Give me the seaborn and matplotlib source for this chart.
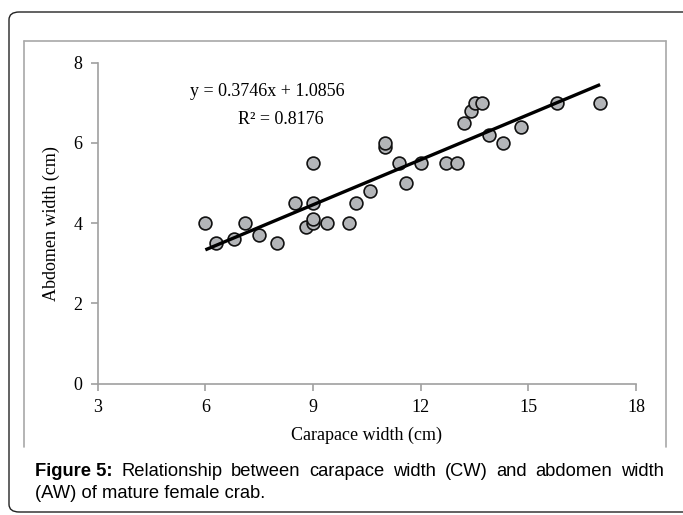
import numpy as np
import pandas as pd
import matplotlib
matplotlib.use("Agg")
import matplotlib.pyplot as plt
from matplotlib.patches import FancyBboxPatch
from matplotlib.lines import Line2D
import seaborn as sns

# ---- data ----
carapace_width = [6.0, 6.3, 6.8, 7.1, 7.5, 8.0, 8.5, 8.8, 9.0, 9.0, 9.0, 9.0,
                  9.4, 10.0, 10.2, 10.6, 11.0, 11.0, 11.4, 11.6, 12.0, 12.7,
                  13.0, 13.2, 13.4, 13.5, 13.7, 13.9, 14.3, 14.8, 15.8, 17.0]
abdomen_width = [4.0, 3.5, 3.6, 4.0, 3.7, 3.5, 4.5, 3.9, 4.0, 4.1, 4.5, 5.5,
                 4.0, 4.0, 4.5, 4.8, 5.9, 6.0, 5.5, 5.0, 5.5, 5.5,
                 5.5, 6.5, 6.8, 7.0, 7.0, 6.2, 6.0, 6.4, 7.0, 7.0]
slope = 0.3746
intercept = 1.0856
r_squared = 0.8176
x_ticks = [3, 6, 9, 12, 15, 18]
y_ticks = [0, 2, 4, 6, 8]

df = pd.DataFrame({"CW": carapace_width, "AW": abdomen_width})

sns.set_theme(style="white")
plt.rcParams['font.family'] = ['Liberation Serif', 'DejaVu Serif']

W, H = 683, 515
fig = plt.figure(figsize=(W / 100, H / 100), dpi=100)
ax = fig.add_axes([97.7 / W, 1 - 383.5 / H, (636 - 97.7) / W, (383.5 - 62.7) / H])

sns.scatterplot(data=df, x="CW", y="AW", ax=ax, s=85, color="#b3b5b8",
                edgecolor="#111111", linewidth=1.2, zorder=3)

xs = np.array([min(carapace_width), max(carapace_width)])
ax.plot(xs, slope * xs + intercept, color="black", lw=2.4, zorder=4,
        solid_capstyle="butt")

ax.set_xlim(3, 18)
ax.set_ylim(0, 8)
ax.set_xticks(x_ticks)
ax.set_yticks(y_ticks)
ax.set_xticklabels([str(t) for t in x_ticks])
ax.set_yticklabels([str(t) for t in y_ticks])

spine_col = "#a0a0a0"
for s in ["top", "right"]:
    ax.spines[s].set_visible(False)
for s in ["left", "bottom"]:
    ax.spines[s].set_color(spine_col)
    ax.spines[s].set_linewidth(1.2)
ax.tick_params(axis="both", which="both", direction="out", length=5,
               width=1.2, color=spine_col, labelsize=13, labelcolor="black",
               pad=6, bottom=True, left=True)
ax.set_xlabel("Carapace width (cm)", fontsize=13, labelpad=8, color="black")
ax.set_ylabel("Abdomen width (cm)", fontsize=13, labelpad=10, color="black")

ax.text(190 / W, 1 - 91 / H, f"y = {slope}x + {intercept}", transform=fig.transFigure,
        fontsize=13, ha="left", va="center", color="black")
ax.text(238 / W, 1 - 119 / H, f"R² = {r_squared}", transform=fig.transFigure,
        fontsize=13, ha="left", va="center", color="black")

# inner chart frame (three sides)
frame_col = "#a8a8a8"
fx0, fx1, fy0, fy1 = 23.5 / W, 665.5 / W, 1 - 447 / H, 1 - 41 / H
for xd, yd in [([fx0, fx0], [fy0, fy1]), ([fx0, fx1], [fy1, fy1]), ([fx1, fx1], [fy1, fy0])]:
    fig.add_artist(Line2D(xd, yd, transform=fig.transFigure, color=frame_col, lw=1.2))

# outer rounded box
box = FancyBboxPatch((9 / W, 1 - 512 / H), (700 - 9) / W, (512 - 12) / H,
                     boxstyle="round,pad=0,rounding_size=0.015", transform=fig.transFigure,
                     fill=False, edgecolor="#222222", lw=1.0)
fig.add_artist(box)

# caption: first line justified between x=35 and x=664
cap_font = ['Liberation Sans', 'DejaVu Sans']
cap_size = 13.2
left_px, right_px = 35, 664
line1_y = 1 - 471 / H
words = [("Figure 5:", True), ("Relationship", False), ("between", False),
         ("carapace", False), ("width", False), ("(CW)", False), ("and", False),
         ("abdomen", False), ("width", False)]
renderer = fig.canvas.get_renderer()
texts = []
for w, bold in words:
    tx = fig.text(0, line1_y, w, fontsize=cap_size, family=cap_font,
                  fontweight="bold" if bold else "normal", ha="left", va="center",
                  color="black")
    texts.append(tx)
widths = [tx.get_window_extent(renderer).width for tx in texts]
gap = (right_px - left_px - sum(widths)) / (len(words) - 1)
xpos = left_px
for tx, wd in zip(texts, widths):
    tx.set_x(xpos / W)
    xpos += wd + gap
fig.text(left_px / W, 1 - 494 / H, "(AW) of mature female crab.", fontsize=cap_size,
         family=cap_font, ha="left", va="center", color="black")

fig.savefig("out.png", dpi=100)
